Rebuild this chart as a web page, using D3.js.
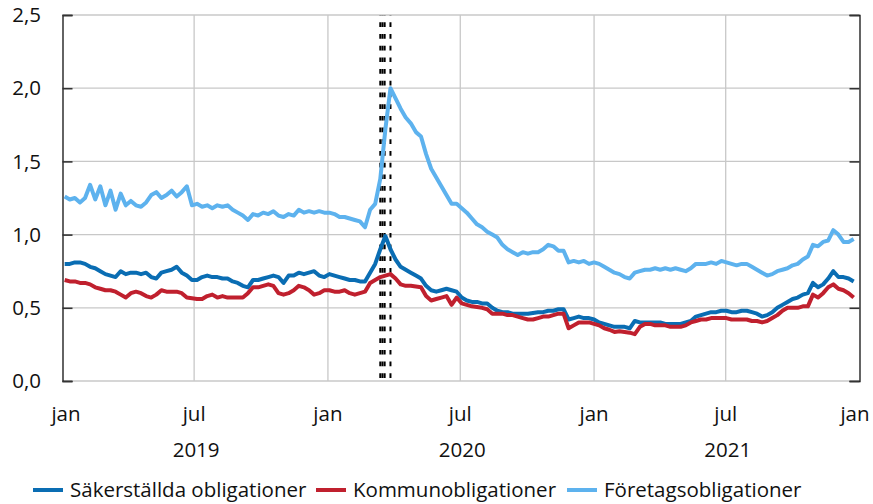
<!DOCTYPE html>
<html>
<head>
<meta charset="utf-8">
<script src="https://cdn.jsdelivr.net/npm/d3@7"></script>
<style>
  html, body { margin: 0; padding: 0; background: #fff; }
  svg { display: block; }
  text { font-family: "Open Sans", "Noto Sans", sans-serif; fill: #111; }
</style>
</head>
<body>
<svg id="chart" width="873" height="504"></svg>
<script>
// Weekly observations, first one on 4 Jan 2019
const firstDate = "2019-01-04";

const sakerstallda = [
  0.80,0.80,0.81,0.81,0.80,0.78,0.77,0.75,0.73,0.72,0.71,0.75,0.73,0.74,0.74,0.73,0.74,0.71,0.70,0.74,
  0.75,0.76,0.78,0.74,0.72,0.69,0.69,0.71,0.72,0.71,0.71,0.70,0.70,0.68,0.67,0.65,0.64,0.69,0.69,0.70,
  0.71,0.72,0.71,0.67,0.72,0.72,0.74,0.73,0.74,0.75,0.72,0.71,0.73,0.72,0.71,0.70,0.69,0.69,0.68,0.68,
  0.74,0.80,0.90,0.99,0.90,0.83,0.78,0.76,0.74,0.72,0.70,0.65,0.62,0.61,0.62,0.63,0.62,0.61,0.57,0.55,
  0.54,0.54,0.53,0.53,0.50,0.48,0.47,0.47,0.46,0.46,0.46,0.46,0.465,0.47,0.47,0.48,0.48,0.49,0.49,0.42,
  0.43,0.44,0.43,0.43,0.42,0.40,0.39,0.38,0.37,0.37,0.37,0.36,0.41,0.40,0.40,0.40,0.40,0.40,0.39,0.39,
  0.39,0.39,0.40,0.41,0.44,0.45,0.46,0.47,0.47,0.48,0.48,0.47,0.47,0.48,0.48,0.47,0.46,0.44,0.45,0.47,
  0.50,0.52,0.54,0.56,0.57,0.59,0.60,0.67,0.64,0.66,0.70,0.75,0.71,0.71,0.70,0.68
];

const kommun = [
  0.69,0.68,0.68,0.67,0.67,0.66,0.64,0.63,0.62,0.62,0.61,0.59,0.57,0.60,0.61,0.60,0.58,0.57,0.59,0.62,
  0.61,0.61,0.61,0.60,0.57,0.565,0.56,0.56,0.58,0.59,0.57,0.58,0.57,0.57,0.57,0.57,0.60,0.64,0.64,0.65,
  0.66,0.65,0.60,0.59,0.60,0.62,0.65,0.64,0.62,0.59,0.60,0.62,0.62,0.61,0.61,0.62,0.60,0.59,0.60,0.61,
  0.67,0.69,0.71,0.72,0.73,0.70,0.66,0.65,0.65,0.645,0.64,0.58,0.55,0.56,0.57,0.58,0.52,0.57,0.53,0.52,
  0.51,0.505,0.50,0.49,0.46,0.46,0.46,0.45,0.45,0.44,0.43,0.42,0.42,0.43,0.44,0.44,0.45,0.46,0.46,0.36,
  0.38,0.40,0.40,0.40,0.39,0.38,0.36,0.35,0.335,0.34,0.335,0.33,0.32,0.37,0.39,0.39,0.38,0.38,0.38,0.37,
  0.37,0.37,0.38,0.40,0.41,0.42,0.42,0.43,0.43,0.43,0.43,0.42,0.42,0.42,0.42,0.41,0.41,0.40,0.41,0.43,
  0.45,0.48,0.50,0.50,0.50,0.51,0.51,0.59,0.57,0.60,0.64,0.66,0.63,0.62,0.60,0.57
];

const foretag = [
  1.26,1.24,1.25,1.22,1.25,1.34,1.24,1.33,1.20,1.30,1.17,1.28,1.20,1.23,1.20,1.19,1.22,1.27,1.29,1.25,
  1.27,1.30,1.26,1.29,1.33,1.20,1.21,1.19,1.20,1.18,1.20,1.19,1.20,1.17,1.15,1.13,1.10,1.14,1.13,1.15,
  1.14,1.16,1.13,1.12,1.14,1.13,1.17,1.15,1.16,1.15,1.16,1.15,1.15,1.14,1.12,1.12,1.11,1.10,1.09,1.05,
  1.17,1.21,1.38,1.72,2.00,1.93,1.86,1.80,1.76,1.70,1.67,1.55,1.45,1.39,1.33,1.27,1.21,1.21,1.18,1.15,
  1.11,1.07,1.05,1.02,1.00,0.98,0.93,0.90,0.88,0.86,0.88,0.87,0.88,0.88,0.90,0.93,0.92,0.89,0.89,0.81,
  0.82,0.81,0.82,0.80,0.81,0.80,0.78,0.76,0.74,0.73,0.71,0.70,0.74,0.75,0.76,0.76,0.77,0.76,0.77,0.76,
  0.77,0.76,0.75,0.77,0.80,0.80,0.80,0.81,0.80,0.82,0.81,0.80,0.79,0.80,0.80,0.78,0.76,0.74,0.72,0.73,
  0.75,0.76,0.77,0.79,0.80,0.83,0.85,0.93,0.92,0.95,0.96,1.03,1.00,0.95,0.95,0.97
];

const seriesNames = ["Säkerställda obligationer", "Kommunobligationer", "Företagsobligationer"];
const seriesColors = ["#0a6db3", "#c0202e", "#5db2ee"];

// Policy announcement dates marked with dashed lines
const eventDates = ["2020-03-13", "2020-03-16", "2020-03-19", "2020-03-27"];

const yTicks = [0, 0.5, 1.0, 1.5, 2.0, 2.5];
const monthTicks = ["2019-01-01","2019-07-01","2020-01-01","2020-07-01","2021-01-01","2021-07-01","2022-01-01"];
const monthLabels = ["jan","jul","jan","jul","jan","jul","jan"];
const yearLabels = ["2019","2020","2021"];
const yearCenters = ["2019-07-01","2020-07-01","2021-07-01"];

const parse = d3.utcParse("%Y-%m-%d");
const start = parse(firstDate);
const dates = sakerstallda.map((_, i) => d3.utcDay.offset(start, 7 * i));

const svg = d3.select("#chart");
const plotLeft = 62.5, plotRight = 859.5, plotTop = 15, plotBottom = 381;
const fontSize = 20.5;

const x = d3.scaleUtc().domain([parse("2019-01-01"), parse("2022-01-01")]).range([plotLeft, plotRight]);
const y = d3.scaleLinear().domain([0, 2.5]).range([plotBottom, plotTop]);

const fmt = v => d3.format(".1f")(v).replace(".", ",");

// Grid
const grid = svg.append("g");
grid.selectAll("line.h").data(yTicks).join("line")
  .attr("x1", plotLeft).attr("x2", plotRight)
  .attr("y1", d => y(d)).attr("y2", d => y(d))
  .attr("stroke", "#c8c8c8").attr("stroke-width", 1.3);
grid.selectAll("line.v").data(monthTicks.slice(1, -1)).join("line")
  .attr("x1", d => x(parse(d))).attr("x2", d => x(parse(d)))
  .attr("y1", plotTop).attr("y2", plotBottom)
  .attr("stroke", "#c8c8c8").attr("stroke-width", 1.3);

// Left and right value axes, ticks pointing inward
const axL = svg.append("g").attr("transform", `translate(${plotLeft},0)`)
  .call(d3.axisRight(y).tickValues(yTicks).tickSize(10).tickFormat(""));
const axR = svg.append("g").attr("transform", `translate(${plotRight},0)`)
  .call(d3.axisLeft(y).tickValues(yTicks).tickSize(10).tickFormat(""));
[axL, axR].forEach(a => {
  a.select(".domain").attr("stroke", "#111").attr("stroke-width", 1.3);
  a.selectAll(".tick line").attr("stroke", "#333").attr("stroke-width", 1.6);
});

// Value labels
svg.append("g").selectAll("text").data(yTicks).join("text")
  .attr("x", 41).attr("y", d => y(d)).attr("dy", "0.35em")
  .attr("text-anchor", "end").attr("font-size", fontSize)
  .text(fmt);

// Month labels
svg.append("g").selectAll("text").data(monthTicks).join("text")
  .attr("x", d => Math.min(Math.max(x(parse(d)), 66), 855))
  .attr("y", 421).attr("text-anchor", "middle").attr("font-size", fontSize)
  .text((d, i) => monthLabels[i]);

// Year labels
svg.append("g").selectAll("text").data(yearCenters).join("text")
  .attr("x", d => x(parse(d)) + 2).attr("y", 457)
  .attr("text-anchor", "middle").attr("font-size", fontSize)
  .text((d, i) => yearLabels[i]);

// Dashed event lines
svg.append("g").selectAll("line").data(eventDates).join("line")
  .attr("x1", d => x(parse(d))).attr("x2", d => x(parse(d)))
  .attr("y1", plotBottom).attr("y2", plotTop)
  .attr("stroke", "#000").attr("stroke-width", 2)
  .attr("stroke-dasharray", "4.7,7").attr("stroke-dashoffset", 8.7);

// Series
const allSeries = [sakerstallda, kommun, foretag];
const line = d3.line().x((d, i) => x(dates[i])).y(d => y(d));
svg.append("g").selectAll("path").data(allSeries).join("path")
  .attr("d", d => line(d))
  .attr("fill", "none")
  .attr("stroke", (d, i) => seriesColors[i])
  .attr("stroke-width", 4)
  .attr("stroke-linejoin", "round");

// Legend
const legendX = [33, 316, 567];
const lg = svg.append("g").selectAll("g").data(seriesNames).join("g")
  .attr("transform", (d, i) => `translate(${legendX[i]},490)`);
lg.append("line").attr("x1", 0).attr("x2", 30).attr("y1", 0).attr("y2", 0)
  .attr("stroke", (d, i) => seriesColors[i]).attr("stroke-width", 4);
lg.append("text").attr("x", 37).attr("y", 0).attr("dy", "0.35em")
  .attr("font-size", fontSize).text(d => d);
</script>
</body>
</html>
